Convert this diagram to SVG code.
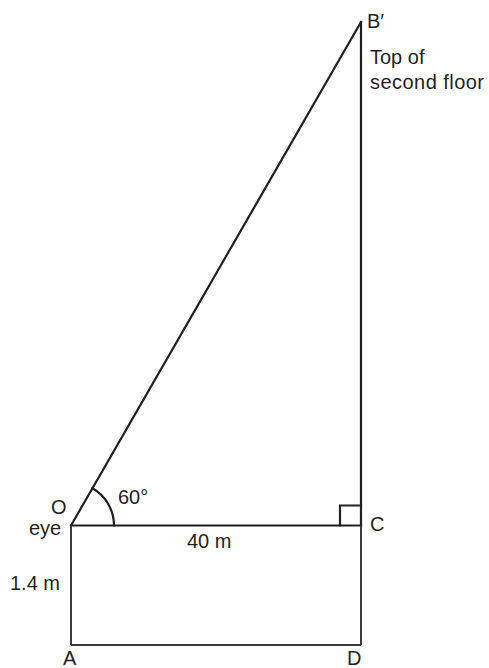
<svg xmlns="http://www.w3.org/2000/svg" width="489" height="668" viewBox="0 0 489 668">
<style>
.ln{stroke:#231f20;stroke-width:2.2;fill:none;stroke-linecap:square}
.lt{stroke:#3a3a3a;stroke-width:2;fill:none}
text{font-family:"Liberation Sans",Arial,sans-serif;font-size:20px;fill:#231f20}
</style>
<rect width="489" height="668" fill="#fff"/>
<g id="connectors">
<line class="ln" x1="71" y1="525.5" x2="361" y2="22"/>
<line class="ln" x1="361" y1="22" x2="361" y2="525.5"/>
<line class="ln" x1="71" y1="525.5" x2="361" y2="525.5"/>
<line class="lt" x1="71" y1="525.5" x2="71" y2="645"/>
<line class="lt" x1="71" y1="645" x2="361" y2="645"/>
<line class="lt" x1="361" y1="525.5" x2="361" y2="645"/>
<polyline class="ln" points="340,525.5 340,505.5 361,505.5"/>
<path class="ln" d="M92.5,488.3 A43,43 0 0 1 114,525.5"/>
</g>
<g id="node-B"><text x="367" y="28">B′</text>
<text x="370" y="64">Top of</text>
<text x="370" y="89" textLength="114">second floor</text></g>
<g id="node-O"><text x="51" y="514">O</text><text x="29" y="535">eye</text></g>
<g id="angle"><text x="118" y="504">60°</text></g>
<g id="node-C"><text x="370" y="531">C</text></g>
<g id="label-40"><text x="187" y="548">40 m</text></g>
<g id="label-14"><text x="10" y="590">1.4 m</text></g>
<g id="node-A"><text x="63" y="665">A</text></g>
<g id="node-D"><text x="347" y="665">D</text></g>
</svg>
